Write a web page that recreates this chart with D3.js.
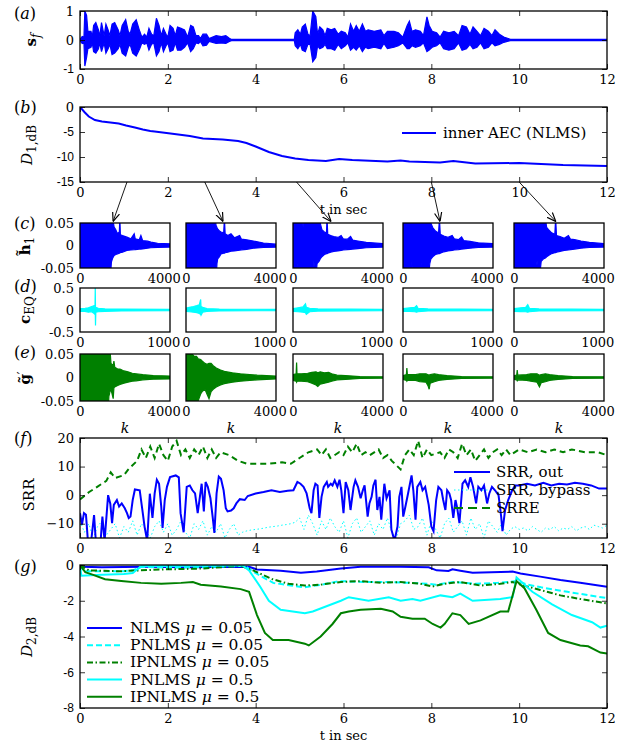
<!DOCTYPE html>
<html><head><meta charset="utf-8">
<script src="https://cdn.jsdelivr.net/npm/d3@7"></script>
<style>
body{margin:0;background:#fff;}
svg text{font-family:"DejaVu Serif",serif;fill:#000;}
</style></head><body>
<script>
// ---------------- DATA ----------------
const tTicks=[0,2,4,6,8,10,12];
// (a) speech envelope  [t, hi, lo]
const sfEnv=[[0,.02,-.02],[0.05,.12,-.12],[0.09,.1,-.1],[0.11,1.0,-.9],[0.15,.85,-.6],[0.18,.3,-.3],[0.25,.3,-.25],[0.28,.1,-.1],[0.31,.5,-.4],[0.36,.6,-.45],[0.42,.35,-.3],[0.45,.12,-.1],[0.49,.6,-.4],[0.53,.3,-.2],[0.55,.15,-.1],[0.59,.55,-.45],[0.64,.35,-.3],[0.68,.15,-.15],[0.73,.55,-.5],[0.79,.6,-.45],[0.87,.35,-.3],[0.91,.15,-.15],[0.96,.5,-.45],[1.04,.7,-.55],[1.10,.3,-.25],[1.14,.2,-.15],[1.20,.55,-.45],[1.28,.7,-.55],[1.36,.3,-.3],[1.41,.1,-.1],[1.47,.2,-.15],[1.52,.1,-.1],[1.57,.4,-.35],[1.63,.2,-.15],[1.68,.15,-.1],[1.74,.75,-.55],[1.80,.5,-.4],[1.85,.15,-.1],[1.90,.4,-.4],[1.96,.2,-.2],[2.00,.1,-.1],[2.05,.5,-.4],[2.12,.4,-.35],[2.17,.15,-.1],[2.22,.45,-.35],[2.30,.4,-.35],[2.38,.35,-.25],[2.45,.1,-.1],[2.52,.5,-.4],[2.58,.45,-.3],[2.64,.15,-.1],[2.70,.15,-.12],[2.74,.05,-.05],[2.80,.2,-.2],[2.88,.2,-.18],[2.94,.05,-.05],[3.02,.1,-.08],[3.10,.15,-.12],[3.22,.12,-.1],[3.32,.15,-.12],[3.40,.06,-.05],[3.45,.02,-.02],[4.88,.02,-.02],
[4.90,.25,-.2],[4.96,.35,-.3],[5.02,.2,-.15],[5.06,.45,-.35],[5.13,.55,-.4],[5.19,.2,-.15],[5.24,.15,-.15],[5.30,1.0,-.75],[5.37,.8,-.6],[5.41,.2,-.2],[5.46,.45,-.3],[5.53,.35,-.25],[5.58,.15,-.15],[5.63,.4,-.3],[5.72,.35,-.3],[5.80,.4,-.35],[5.88,.2,-.15],[5.95,.3,-.3],[6.04,.25,-.2],[6.10,.1,-.1],[6.16,.55,-.35],[6.23,.3,-.25],[6.29,.5,-.35],[6.36,.3,-.2],[6.43,.55,-.4],[6.50,.3,-.25],[6.56,.35,-.3],[6.70,.3,-.25],[6.85,.35,-.3],[6.92,.15,-.12],[7.00,.3,-.3],[7.15,.3,-.25],[7.25,.25,-.2],[7.35,.1,-.1],[7.45,.5,-.3],[7.50,.65,-.3],[7.56,.3,-.2],[7.64,.35,-.25],[7.75,.3,-.2],[7.82,.15,-.1],[7.90,.8,-.4],[7.95,.5,-.35],[8.02,.3,-.25],[8.12,.25,-.2],[8.20,.1,-.1],[8.28,.3,-.3],[8.40,.25,-.35],[8.52,.3,-.3],[8.62,.15,-.1],[8.70,.5,-.35],[8.80,.45,-.3],[8.88,.2,-.15],[8.95,.45,-.3],[9.04,.3,-.25],[9.12,.15,-.1],[9.20,.4,-.3],[9.30,.3,-.25],[9.38,.15,-.1],[9.45,.35,-.2],[9.55,.2,-.15],[9.65,.1,-.08],[9.75,.05,-.04],[9.80,.02,-.02],[12,.02,-.02]];

// (b) D1
const d1T=[0,0.1,0.2,0.34,0.5,0.88,1.05,1.25,1.43,1.6,1.7,2.06,2.5,2.8,3.25,3.6,3.79,4.0,4.3,4.6,4.9,5.2,5.6,5.9,6.2,7.0,7.3,7.5,8.2,8.5,8.7,9.0,10.0,10.5,11.0,12.0];
const d1V=[0,-1,-1.9,-2.6,-2.9,-3.3,-3.7,-4.1,-4.5,-4.8,-4.9,-5.3,-5.8,-6.3,-6.5,-6.8,-7.2,-7.9,-9.0,-9.8,-10.3,-10.6,-10.8,-10.4,-10.6,-10.9,-10.7,-10.9,-11.1,-10.8,-11.0,-11.3,-11.2,-11.4,-11.6,-11.8];

// arrows: start time in (b), target tap index in (c)
const arrowT=[1.07,2.84,4.93,8.0,10.0];
const arrowK=[1580,1770,1820,1770,2000];

// (c) h1 estimates  [k, hi, lo]
const h1_1=[[0,.08,-.08],[1440,.08,-.08],[1500,.08,-.037],[1560,.06,-.028],[1630,.041,-.022],[1710,.035,-.02],[1790,.026,-.0185],[1880,.03,-.017],[1903,.06,-.016],[1930,.024,-.016],[2030,.022,-.015],[2238,.0185,-.011],[2430,.015,-.010],[2590,.026,-.0095],[2640,.015,-.009],[2829,.0126,-.008],[2909,.022,-.008],[2990,.011,-.0075],[3229,.0096,-.006],[3388,.0074,-.005],[3709,.005,-.004],[4300,.0037,-.0035]];
const h1_2=[[0,.08,-.08],[1353,.08,-.08],[1400,.06,-.08],[1433,.045,-.08],[1480,.04,-.04],[1514,.037,-.03],[1600,.032,-.025],[1675,.03,-.0185],[1800,.028,-.017],[1836,.06,-.017],[1870,.026,-.016],[1997,.022,-.015],[2150,.026,-.0126],[2319,.017,-.012],[2561,.022,-.0105],[2650,.014,-.0096],[2900,.0126,-.0085],[3220,.01,-.006],[3700,.0055,-.0045],[4300,.003,-.0037]];
const h1_3=[[0,.08,-.08],[150,.08,-.08],[200,.08,-.04],[260,.08,-.08],[440,.08,-.08],[480,.04,-.08],[520,.08,-.08],[950,.08,-.08],[1000,.08,-.035],[1080,.08,-.08],[1150,.08,-.04],[1250,.08,-.035],[1300,.05,-.03],[1380,.035,-.025],[1500,.03,-.02],[1600,.028,-.018],[1625,.06,-.018],[1660,.025,-.017],[1800,.022,-.015],[1950,.02,-.013],[2150,.018,-.012],[2300,.022,-.011],[2400,.015,-.01],[2600,.014,-.009],[2750,.02,-.0085],[2850,.012,-.008],[3100,.01,-.007],[3500,.007,-.005],[4300,.004,-.0035]];
const h1_4=[[0,.08,-.08],[130,.08,-.08],[180,.04,-.08],[230,.08,-.08],[380,.08,-.08],[420,.08,-.035],[470,.08,-.08],[820,.08,-.08],[870,.08,-.038],[930,.08,-.08],[1200,.08,-.08],[1280,.08,-.04],[1330,.05,-.03],[1420,.04,-.025],[1550,.032,-.02],[1700,.028,-.018],[1740,.06,-.018],[1780,.025,-.017],[1950,.021,-.014],[2150,.018,-.012],[2350,.022,-.011],[2450,.015,-.01],[2650,.013,-.009],[2800,.019,-.008],[2900,.011,-.0075],[3200,.009,-.006],[3600,.006,-.0045],[4300,.004,-.0035]];
const h1_5=[[0,.08,-.08],[70,.08,-.08],[120,.08,-.035],[190,.08,-.08],[580,.08,-.08],[650,.08,-.04],[700,.035,-.08],[760,.08,-.08],[1000,.08,-.08],[1100,.08,-.035],[1200,.08,-.08],[1300,.08,-.035],[1400,.08,-.03],[1500,.06,-.028],[1560,.04,-.025],[1650,.035,-.022],[1800,.028,-.018],[1950,.025,-.016],[1990,.06,-.016],[2030,.022,-.015],[2200,.02,-.013],[2400,.016,-.011],[2600,.022,-.01],[2700,.014,-.009],[2900,.013,-.008],[3200,.01,-.006],[3600,.007,-.0045],[4300,.004,-.0035]];

// (d) c_EQ  [k, hi, lo]
const cEQ_1=[[0,.03,-.03],[60,.04,-.03],[100,.05,-.05],[140,.08,-.04],[170,.1,-.08],[180,.08,-.1],[183,.5,-.05],[186,.05,-.35],[190,.06,-.05],[220,.04,-.04],[300,.025,-.03],[500,.02,-.02],[1080,.015,-.015]];
const cEQ_2=[[0,.04,-.03],[40,.06,-.04],[90,.08,-.05],[130,.1,-.06],[160,.12,-.08],[176,.24,-.1],[180,.08,-.12],[200,.06,-.05],[250,.03,-.03],[400,.02,-.02],[1080,.015,-.015]];
const cEQ_3=[[0,.03,-.03],[60,.05,-.04],[120,.07,-.05],[150,.14,-.06],[160,.06,-.1],[200,.04,-.04],[300,.025,-.025],[1080,.015,-.015]];
const cEQ_4=[[0,.03,-.03],[80,.05,-.03],[140,.06,-.04],[163,.1,-.05],[180,.04,-.04],[300,.025,-.02],[1080,.015,-.015]];
const cEQ_5=[[0,.03,-.03],[80,.05,-.035],[140,.06,-.04],[165,.12,-.05],[185,.04,-.04],[300,.025,-.02],[1080,.015,-.015]];

// (e) g'  [k, hi, lo]
const g_1=[[0,.08,-.08],[1338,.08,-.08],[1380,.08,-.04],[1433,.06,-.03],[1480,.03,-.025],[1586,.025,-.045],[1620,.035,-.022],[1660,.022,-.02],[1800,.018,-.017],[1911,.018,-.015],[2100,.014,-.012],[2290,.012,-.01],[2500,.009,-.008],[2680,.008,-.007],[3000,.006,-.005],[3500,.004,-.0035],[4300,.003,-.003]];
const g_2=[[0,.08,-.03],[60,.08,-.06],[100,.08,-.08],[250,.08,-.08],[300,.05,-.08],[386,.045,-.08],[500,.045,-.08],[578,.04,-.05],[700,.038,-.035],[771,.035,-.03],[906,.03,-.025],[1000,.028,-.035],[1100,.03,-.045],[1200,.03,-.03],[1300,.025,-.025],[1446,.02,-.02],[1650,.016,-.016],[1832,.013,-.013],[2218,.01,-.01],[2600,.008,-.008],[3400,.005,-.005],[4300,.003,-.003]];
const g_3=[[0,.006,-.006],[150,.008,-.008],[172,.032,-.01],[190,.008,-.008],[400,.008,-.008],[700,.009,-.009],[900,.011,-.012],[1100,.012,-.016],[1185,.01,-.019],[1300,.012,-.014],[1500,.01,-.012],[1700,.011,-.01],[1850,.008,-.008],[2100,.005,-.005],[2500,.004,-.004],[3200,.002,-.002],[4300,.0015,-.0015]];
const g_4=[[0,.004,-.004],[160,.006,-.006],[185,.02,-.008],[210,.006,-.006],[600,.006,-.006],[800,.008,-.009],[1100,.008,-.01],[1200,.006,-.018],[1250,.005,-.025],[1300,.006,-.012],[1500,.008,-.009],[1700,.006,-.006],[2100,.004,-.004],[2800,.002,-.002],[4300,.0015,-.0015]];
const g_5=[[0,.004,-.004],[130,.005,-.005],[154,.016,-.007],[180,.005,-.005],[600,.006,-.006],[800,.008,-.008],[1100,.008,-.01],[1215,.005,-.02],[1300,.006,-.011],[1500,.008,-.009],[1700,.006,-.006],[2100,.004,-.004],[2800,.002,-.002],[4300,.0015,-.0015]];

// (f) SRR
const srrOutT=[0,.045,.09,.136,.18,.255,.32,.36,.47,.51,.56,.64,.69,.73,.77,.84,.89,.95,1.02,1.07,1.11,1.15,1.2,1.25,1.36,1.41,1.47,1.53,1.59,1.65,1.7,1.75,1.8,1.85,1.88,1.93,1.98,2.05,2.18,2.25,2.29,2.36,2.43,2.5,2.56,2.62,2.68,2.73,2.77,2.82,2.86,2.91,2.97,3.02,3.06,3.11,3.16,3.21,3.27,3.32,3.36,3.44,3.5,3.56,3.64,3.75,3.82,4.0,4.18,4.36,4.55,4.73,4.86,4.95,5.02,5.09,5.16,5.23,5.27,5.32,5.36,5.41,5.45,5.5,5.55,5.62,5.65,5.71,5.75,5.8,5.86,5.91,5.95,6.0,6.05,6.11,6.16,6.23,6.27,6.33,6.39,6.44,6.48,6.55,6.59,6.64,6.68,6.73,6.77,6.82,6.86,6.93,6.98,7.05,7.09,7.16,7.23,7.27,7.32,7.36,7.41,7.47,7.55,7.59,7.64,7.68,7.75,7.8,7.86,7.94,8.0,8.05,8.11,8.16,8.23,8.27,8.32,8.36,8.41,8.45,8.5,8.55,8.59,8.64,8.71,8.77,8.84,8.89,8.95,9.02,9.07,9.14,9.2,9.27,9.32,9.38,9.45,9.53,9.59,9.62,9.68,9.75,9.84,9.91,10.0,10.18,10.36,10.55,10.73,10.91,11.09,11.27,11.45,11.64,11.82,12];
const srrOutV=[-6.3,-10.3,-6.3,-6.9,-16,-16,-7,-16,-16,-7.5,-16,0,-3,-9.8,-3.4,-1.7,-4,-2.9,-4.6,-6.3,-8,-7.5,-1.7,2,1.7,-4,-11,-16,0.5,-8,0.6,5.4,4,-4,-11.5,-1.7,2.9,6.3,6.9,6.2,-6.3,-13,2.9,3.4,1.7,0.6,-6.3,-0.6,4,-5.7,4.6,2.9,-1.1,-7.5,-13.2,0.6,6.5,5.7,1.7,-4.6,-5.7,-5.4,-4.6,-2.9,-1.4,-1.7,-0.3,0.6,1.1,1.7,1.1,1.5,1.7,4.6,4,2.9,0.6,-4.6,-6.3,1.7,4,3.4,-8,-0.6,2.9,4.6,2.9,4,3.4,5.2,2.9,5.4,1.7,-6.3,4.6,1.7,-5.2,2.9,5.2,2.9,-1.1,1.7,3.4,-7.5,-2.9,-0.6,3.4,5.4,-5.2,-0.6,-8.6,4,-1.1,1.7,-12,-16,-11,-0.6,2.9,-7.5,-4,0.6,6.9,1.7,-8.6,2.9,4.6,1.7,2.9,-3.4,-11,-12.6,-1.7,2.9,1.7,-1.7,-5.2,1.7,0.6,-1.7,-8,-1.7,-4.6,-9.8,4,5.2,2.9,6.3,2.9,-2.9,2.9,1.7,3.4,-2.9,0.6,2.9,1.7,0,-7.5,-12.6,-5.2,-1.7,1.7,3.4,3.4,4,3.4,4.3,3.4,4,3.7,4.3,4,3.4,2.3,2.3];
const srrBypassV=[-9,-13,-10,-15,-11,-9,-14,-12,-10,-15, -11,-13,-9,-14,-10,-12,-15,-11,-9,-13, -10,-14,-12,-9,-13,-15,-10,-12,-9,-14, -11,-13,-10,-15,-12,-10,-14,-13,-12.5,-12.2, -12,-11.8,-11.5,-11.2,-11,-10.8,-10.5,-10.3,-10,-9.5, -8,-12,-7,-10,-14,-9,-12,-8,-11,-13, -9,-15,-10,-8,-13,-11,-9,-14,-10,-12, -8,-13,-15,-10,-9,-7,-12,-11,-8,-14, -9,-12,-15,-10,-8,-13,-11,-9,-14,-8, -12,-10,-15,-9,-11,-13,-10,-14,-12,-11, -12,-11.5,-12.5,-11,-12,-13,-11.5,-12,-11,-12.5, -11.5,-12,-11,-12.5,-11.5,-11,-12,-10.5,-11,-11.5, -10.5];
const srreT=[0,0.2,0.4,0.6,0.7,0.8,1.0,1.1,1.3,1.4,1.5,1.6,1.7,1.8,1.9,2.0,2.1,2.2,2.3,2.4,2.5,2.6,2.7,2.8,2.9,3.0,3.1,3.2,3.4,3.6,3.8,4.0,4.3,4.6,4.8,5.0,5.2,5.4,5.5,5.6,5.7,5.9,6.0,6.1,6.2,6.3,6.4,6.5,6.6,6.8,6.9,7.0,7.1,7.3,7.4,7.5,7.6,7.7,7.8,7.9,8.0,8.2,8.3,8.4,8.5,8.6,8.7,8.8,8.9,9.0,9.1,9.2,9.3,9.4,9.5,9.6,9.7,9.8,10.0,10.2,10.4,10.6,10.8,11.0,11.2,11.5,11.8,12.0];
const srreV=[-1.5,1,3,5,8,6,7,9,12,16,13,17,13,18,14,12,17,19,14,16,13,16,14,17,13,16,13,15,14,12,11,11,11,11.5,11,13,15,16,14,16,13,15,14,17,15,18,14,15,14,16,13,14,12,9,14,16,14,19,13,16,14,15,13,16,15,13,18,14,16,12,14,16,13,15,16,14,16,14,16,15,16,15,16,15,16,15,15,14];

// (g) D2
const nlms005T=[0,0.05,0.5,1.5,2.5,3.85,4.03,4.57,5.03,5.39,5.94,6.39,7.3,7.94,8.12,8.39,8.48,8.66,8.94,9.85,10.03,10.48,10.94,11.39,12];
const nlms005V=[0,-0.1,-0.12,-0.1,-0.12,-0.1,-0.25,-0.32,-0.43,-0.37,-0.2,-0.1,-0.1,-0.13,-0.3,-0.33,-0.24,-0.32,-0.43,-0.37,-0.47,-0.65,-0.84,-0.99,-1.22];
const pnlms005T=[0,0.1,0.5,1.0,1.2,1.4,2.0,3.0,3.75,3.9,4.1,4.4,4.8,5.1,5.5,5.9,6.5,7.0,7.5,7.9,8.1,8.5,9.0,9.5,9.95,10.2,10.5,11.1,11.6,12];
const pnlms005V=[0,-0.35,-0.35,-0.35,-0.3,-0.1,-0.15,-0.1,-0.05,-0.3,-0.6,-1.0,-1.15,-1.25,-1.1,-0.9,-0.95,-0.95,-1.0,-1.05,-1.1,-0.95,-1.05,-1.0,-0.9,-1.1,-1.25,-1.5,-1.7,-1.85];
const ipnlms005T=[0,0.2,0.9,1.85,2.75,3.66,3.94,4.39,4.75,5.12,5.48,5.94,6.39,6.85,7.3,7.75,8.03,8.3,8.66,9.12,9.57,9.85,10.03,10.48,10.94,11.39,12];
const ipnlms005V=[0,-0.3,-0.35,-0.25,-0.2,-0.05,-0.3,-0.8,-1.05,-1.15,-1.1,-0.95,-0.9,-1.0,-0.95,-1.05,-1.2,-1.05,-0.95,-1.15,-1.05,-0.95,-1.1,-1.4,-1.7,-1.9,-2.15];
const pnlms05T=[0,0.03,0.5,1.0,1.2,1.4,2.0,3.7,3.85,4.1,4.3,4.57,5.12,5.3,5.94,6.12,6.57,7.03,7.3,7.57,7.75,8.21,8.48,8.66,8.94,9.57,9.85,9.94,10.3,10.75,11.2,11.66,11.85,12];
const pnlms05V=[0,-0.6,-0.55,-0.5,-0.45,-0.05,-0.05,-0.02,-0.3,-1.2,-2.0,-2.5,-2.7,-2.6,-2.0,-1.8,-2.0,-1.8,-2.0,-1.9,-2.0,-1.7,-1.8,-1.6,-2.0,-1.9,-1.8,-0.7,-1.5,-2.2,-2.8,-3.2,-3.5,-3.4];
const ipnlms05T=[0,0.12,0.3,0.57,0.94,1.39,1.85,2.3,2.57,2.75,3.21,3.66,3.85,4.03,4.21,4.39,4.75,5.12,5.21,5.48,5.75,5.94,6.12,6.39,6.85,7.12,7.3,7.57,7.85,8.03,8.21,8.3,8.48,8.66,8.85,9.12,9.57,9.75,9.94,10.12,10.39,10.66,10.94,11.39,11.57,11.85,12];
const ipnlms05V=[0,-0.4,-0.55,-0.8,-0.9,-1.0,-1.05,-1.0,-0.95,-1.1,-1.2,-1.35,-1.5,-2.8,-3.8,-4.2,-4.2,-4.4,-4.5,-4.0,-3.3,-2.7,-2.6,-2.5,-2.45,-2.6,-2.9,-3.0,-3.0,-3.3,-3.5,-3.3,-2.7,-2.8,-3.3,-3.1,-2.6,-2.6,-0.9,-1.3,-2.5,-3.8,-4.2,-4.5,-4.55,-4.9,-4.95];
const gLegend=["NLMS","PNLMS","IPNLMS","PNLMS","IPNLMS"];
const gMu=["0.05","0.05","0.05","0.5","0.5"];

// ---------------- DRAWING ----------------
const BLUE="#0000ff",CYAN="#00ffff",GREEN="#008000";
const svg=d3.select("body").append("svg").attr("width",625).attr("height",742);
const L=80,R=607;
let clipN=0;
function panel(x0,x1,y0,y1,xd,yd){
  const x=d3.scaleLinear().domain(xd).range([x0,x1]);
  const y=d3.scaleLinear().domain(yd).range([y1,y0]);
  const id="clip"+(clipN++);
  svg.append("clipPath").attr("id",id).append("rect").attr("x",x0).attr("y",y0).attr("width",x1-x0).attr("height",y1-y0);
  const g=svg.append("g").attr("clip-path",`url(#${id})`);
  return {x,y,g,x0,x1,y0,y1};
}
function frame(p){
  svg.append("rect").attr("x",p.x0).attr("y",p.y0).attr("width",p.x1-p.x0).attr("height",p.y1-p.y0)
    .attr("fill","none").attr("stroke","#000").attr("stroke-width",1.3);
}
function fmt(d,minus){ return d<0 ? minus+Math.abs(d) : String(d); }
function styleAxis(a,sansNeg){
  a.select(".domain").remove();
  a.attr("font-family",null).attr("font-size",null);
  a.selectAll("line").attr("stroke","#000").attr("stroke-width",0.8);
  a.selectAll("text").attr("font-size",13).each(function(d){
    if(sansNeg && d<0) d3.select(this).style("font-family","'Liberation Sans',sans-serif").attr("font-size",12);
  });
}
function axes(p,xt,yt,opt){
  opt=opt||{};
  const tl=opt.tick===undefined?5:opt.tick;
  const minus=opt.minus||"-";
  const ax=svg.append("g").attr("transform",`translate(0,${p.y1})`)
    .call(d3.axisBottom(p.x).tickValues(xt).tickSizeInner(-tl).tickSizeOuter(0).tickPadding(6).tickFormat(d=>fmt(d,minus)));
  styleAxis(ax,false);
  if(tl>0){
    const at=svg.append("g").attr("transform",`translate(0,${p.y0})`)
      .call(d3.axisTop(p.x).tickValues(xt).tickSizeInner(-tl).tickSizeOuter(0).tickFormat(""));
    styleAxis(at,false);
  }
  const ay=svg.append("g").attr("transform",`translate(${p.x0},0)`)
    .call(d3.axisLeft(p.y).tickValues(yt).tickSizeInner(-tl).tickSizeOuter(0).tickPadding(6).tickFormat(d=>fmt(d,minus)));
  styleAxis(ay,opt.sansNeg);
  if(opt.noYLabels) ay.selectAll("text").remove();
  if(tl>0){
    const ar=svg.append("g").attr("transform",`translate(${p.x1},0)`)
      .call(d3.axisRight(p.y).tickValues(yt).tickSizeInner(-tl).tickSizeOuter(0).tickFormat(""));
    styleAxis(ar,false);
  }
}
function panelLabel(letter,y){
  const t=svg.append("text").attr("x",14).attr("y",y).attr("font-size",16);
  t.append("tspan").text("(");
  t.append("tspan").attr("font-style","italic").text(letter);
  t.append("tspan").text(")");
}
function yLabel(x,y,parts){
  const t=svg.append("text").attr("transform",`translate(${x},${y}) rotate(-90)`).attr("text-anchor","middle").attr("font-size",15);
  parts.forEach(pp=>{
    const s=t.append("tspan").text(pp.t);
    if(pp.b) s.attr("font-weight","bold");
    if(pp.i) s.attr("font-style","italic");
    if(pp.dy) s.attr("dy",pp.dy);
    if(pp.fs) s.attr("font-size",pp.fs);
  });
}
const envArea=p=>d3.area().x(d=>p.x(d[0])).y0(d=>p.y(d[2])).y1(d=>p.y(d[1]));

// ---- (a)
const pa=panel(L,R,11,69,[0,12],[-1,1]);
pa.g.append("path").datum(sfEnv).attr("d",envArea(pa)).attr("fill",BLUE).attr("stroke",BLUE).attr("stroke-width",1.2);
frame(pa); axes(pa,tTicks,[-1,0,1],{sansNeg:true});
panelLabel("a",19);
yLabel(36,40,[{t:"s",b:true},{t:"f",i:true,dy:4,fs:12}]);

// ---- (b)
const pb=panel(L,R,107,182,[0,12],[-15,0]);
pb.g.append("path").datum(d1T.map((t,i)=>[t,d1V[i]]))
  .attr("d",d3.line().x(d=>pb.x(d[0])).y(d=>pb.y(d[1]))).attr("fill","none").attr("stroke",BLUE).attr("stroke-width",2);
frame(pb); axes(pb,tTicks,[-15,-10,-5,0],{sansNeg:true});
svg.append("line").attr("x1",402).attr("x2",436).attr("y1",133).attr("y2",133).attr("stroke",BLUE).attr("stroke-width",2);
svg.append("text").attr("x",443).attr("y",138).attr("font-size",15).text("inner AEC (NLMS)");
panelLabel("b",113);
yLabel(32,145,[{t:"D",i:true},{t:"1,dB",dy:4,fs:12}]);
svg.append("text").attr("x",(L+R)/2).attr("y",214).attr("text-anchor","middle").attr("font-size",13).text("t in sec");

// ---- small subplots (c),(d),(e)
const subX=[80,186,293,403,514], subW=90;
const h1Sets=[h1_1,h1_2,h1_3,h1_4,h1_5];
const cEQSets=[cEQ_1,cEQ_2,cEQ_3,cEQ_4,cEQ_5];
const gSets=[g_1,g_2,g_3,g_4,g_5];
function smallRow(sets,y0,y1,kMax,yd,yticks,xtick,color){
  const ps=[];
  sets.forEach((set,i)=>{
    const p=panel(subX[i],subX[i]+subW,y0,y1,[0,kMax],yd);
    p.g.append("path").datum(set).attr("d",envArea(p)).attr("fill",color).attr("stroke",color).attr("stroke-width",1.2);
    frame(p);
    axes(p,[0,xtick],yticks,{tick:0,noYLabels:i>0});
    ps.push(p);
  });
  return ps;
}
const pcs=smallRow(h1Sets,223,268,4300,[-0.05,0.05],[-0.05,0,0.05],4000,BLUE);
const pds=smallRow(cEQSets,288,332,1080,[-0.5,0.5],[-0.5,0,0.5],1000,CYAN);
const pes=smallRow(gSets,354,401,4300,[-0.05,0.05],[-0.05,0,0.05],4000,GREEN);
panelLabel("c",229); panelLabel("d",292); panelLabel("e",358);
yLabel(30,246,[{t:"h\u0303",b:true},{t:"1",dy:4,fs:12}]);
yLabel(30,310,[{t:"c",b:true},{t:"EQ",dy:4,fs:12}]);
yLabel(30,378,[{t:"g\u0303",b:true},{t:"\u2032",dy:-3,fs:12}]);
pes.forEach(p=>{
  svg.append("text").attr("x",(p.x0+p.x1)/2).attr("y",433).attr("text-anchor","middle").attr("font-size",14).attr("font-style","italic").text("k");
});

// arrows from (b) to (c)
const defs=svg.append("defs");
defs.append("marker").attr("id","arr").attr("viewBox","0 0 10 10").attr("refX",10).attr("refY",5)
  .attr("markerWidth",9).attr("markerHeight",9).attr("markerUnits","userSpaceOnUse").attr("orient","auto")
  .append("path").attr("d","M0,1 L10,5 L0,9").attr("fill","none").attr("stroke","#000").attr("stroke-width",1.3);
arrowT.forEach((t,i)=>{
  svg.append("line").attr("x1",pb.x(t)).attr("y1",pb.y1).attr("x2",pcs[i].x(arrowK[i])).attr("y2",pcs[i].y0-1.5)
    .attr("stroke","#000").attr("stroke-width",0.9).attr("marker-end","url(#arr)");
});

// ---- (f)
const pf=panel(L,R,438,538,[0,12],[-15,20]);
const bypassT=d3.range(srrBypassV.length).map(i=>i*0.1);
const lineF=d3.line().x(d=>pf.x(d[0])).y(d=>pf.y(d[1]));
pf.g.append("path").datum(bypassT.map((t,i)=>[t,srrBypassV[i]])).attr("d",lineF).attr("fill","none")
  .attr("stroke",CYAN).attr("stroke-width",1).attr("stroke-dasharray","1.5,2.5");
pf.g.append("path").datum(srreT.map((t,i)=>[t,srreV[i]])).attr("d",lineF).attr("fill","none")
  .attr("stroke",GREEN).attr("stroke-width",2).attr("stroke-dasharray","6,4");
pf.g.append("path").datum(srrOutT.map((t,i)=>[t,srrOutV[i]])).attr("d",lineF).attr("fill","none")
  .attr("stroke",BLUE).attr("stroke-width",2);
frame(pf); axes(pf,tTicks,[-10,0,10,20],{minus:"\u2212"});
const fLeg=[{n:"SRR, out",c:BLUE,w:2,da:null},{n:"SRR, bypass",c:CYAN,w:1,da:"1.5,2.5"},{n:"SRRE",c:GREEN,w:2,da:"9,5"}];
fLeg.forEach((e,i)=>{
  const yy=472+i*18;
  svg.append("line").attr("x1",454).attr("x2",490).attr("y1",yy).attr("y2",yy).attr("stroke",e.c).attr("stroke-width",e.w).attr("stroke-dasharray",e.da);
  svg.append("text").attr("x",496).attr("y",yy+5).attr("font-size",15).text(e.n);
});
panelLabel("f",444);
yLabel(34,495,[{t:"SRR"}]);

// ---- (g)
const pg=panel(L,R,565,708,[0,12],[-8,0]);
const lineG=d3.line().x(d=>pg.x(d[0])).y(d=>pg.y(d[1]));
const gSeries=[
  {T:nlms005T,V:nlms005V,c:BLUE,da:null},
  {T:pnlms005T,V:pnlms005V,c:CYAN,da:"6,3"},
  {T:ipnlms005T,V:ipnlms005V,c:GREEN,da:"6,2.5,1.5,2.5"},
  {T:pnlms05T,V:pnlms05V,c:CYAN,da:null},
  {T:ipnlms05T,V:ipnlms05V,c:GREEN,da:null}];
gSeries.forEach(s=>{
  pg.g.append("path").datum(s.T.map((t,i)=>[t,s.V[i]])).attr("d",lineG).attr("fill","none")
    .attr("stroke",s.c).attr("stroke-width",2).attr("stroke-dasharray",s.da);
});
frame(pg); axes(pg,tTicks,[-8,-6,-4,-2,0],{sansNeg:true});
gSeries.forEach((s,i)=>{
  const yy=628+i*17.2;
  svg.append("line").attr("x1",87).attr("x2",122).attr("y1",yy).attr("y2",yy).attr("stroke",s.c).attr("stroke-width",2).attr("stroke-dasharray",s.da);
  const t=svg.append("text").attr("x",130).attr("y",yy+5).attr("font-size",15.5);
  t.append("tspan").text(gLegend[i]+" ");
  t.append("tspan").attr("font-style","italic").text("\u03bc");
  t.append("tspan").text(" = "+gMu[i]);
});
panelLabel("g",572);
yLabel(32,637,[{t:"D",i:true},{t:"2,dB",dy:4,fs:12}]);
svg.append("text").attr("x",(L+R)/2).attr("y",740).attr("text-anchor","middle").attr("font-size",13).text("t in sec");
</script></body></html>
